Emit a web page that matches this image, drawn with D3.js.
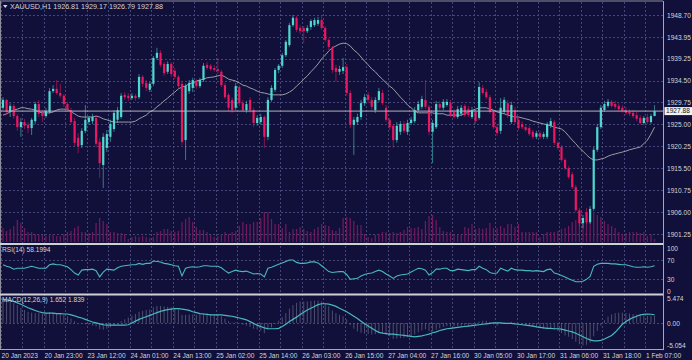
<!DOCTYPE html>
<html><head><meta charset="utf-8">
<script src="https://cdn.jsdelivr.net/npm/d3@7"></script>
<style>
html,body{margin:0;padding:0;background:#10103a;}
svg{display:block;}
text{font-family:"Liberation Sans",Arial,sans-serif;}
</style></head><body>
<svg id="chart" width="692" height="360"></svg>
<script>
const open = [
1928.6,1930.3,1927.7,1929.0,1926.8,1924.4,1925.5,1924.9,1924.2,1925.7,
1929.4,1927.5,1926.8,1927.7,1932.2,1932.7,1931.8,1931.2,1929.4,1928.1,
1925.7,1922.1,1920.5,1923.6,1925.5,1925.7,1926.4,1921.2,1916.2,1919.9,
1922.3,1924.0,1926.0,1926.6,1931.4,1931.2,1930.7,1931.2,1930.9,1935.3,
1934.0,1932.5,1933.8,1939.4,1940.5,1938.1,1936.4,1938.1,1936.6,1935.3,
1933.8,1921.6,1932.2,1932.9,1934.4,1933.3,1934.6,1937.9,1937.7,1937.2,
1937.0,1936.4,1933.5,1931.4,1930.3,1928.6,1933.1,1929.6,1928.1,1930.3,
1928.1,1925.3,1925.5,1926.6,1922.3,1930.3,1932.5,1936.8,1937.7,1940.0,
1942.2,1946.5,1948.1,1945.9,1945.9,1945.2,1946.1,1946.5,1946.8,1947.6,
1945.9,1943.3,1941.6,1937.2,1936.4,1936.6,1937.4,1931.8,1924.9,1925.5,
1926.6,1929.6,1931.4,1930.3,1928.1,1930.3,1931.8,1928.6,1926.0,1924.7,
1921.6,1923.4,1925.1,1923.4,1925.3,1925.7,1928.1,1928.8,1930.3,1928.8,
1923.4,1924.4,1929.4,1928.6,1929.2,1929.6,1927.7,1926.6,1927.3,1929.0,
1928.3,1926.6,1927.7,1926.4,1932.9,1932.0,1930.9,1927.7,1924.4,1923.6,
1927.7,1929.6,1925.5,1928.1,1926.0,1925.1,1924.4,1924.2,1923.4,1922.3,
1923.1,1922.3,1922.3,1924.7,1925.5,1921.0,1920.1,1917.3,1915.5,1914.2,
1911.4,1906.4,1903.6,1906.0,1903.8,1906.7,1919.5,1924.4,1928.1,1929.0,
1929.9,1929.4,1929.0,1928.6,1928.1,1927.7,1927.5,1927.0,1926.4,1925.3,
1926.6,1925.5,1926.81];
const high = [
1930.9,1930.5,1929.6,1929.4,1927.3,1926.4,1926.2,1925.5,1926.4,1929.9,
1930.3,1928.1,1928.6,1932.9,1933.5,1934.6,1933.8,1931.6,1929.9,1928.6,
1926.4,1923.1,1924.2,1929.2,1926.8,1927.3,1927.0,1922.1,1923.1,1923.8,
1926.0,1928.1,1928.8,1931.8,1932.0,1931.8,1931.8,1931.6,1935.9,1935.7,
1934.6,1934.2,1939.8,1941.6,1941.1,1938.5,1938.7,1938.5,1937.2,1935.7,
1934.2,1933.8,1934.6,1935.1,1934.8,1935.1,1938.3,1938.5,1938.1,1937.9,
1939.4,1936.8,1934.0,1931.8,1930.9,1934.0,1933.5,1930.3,1930.1,1930.9,
1928.6,1927.0,1927.3,1927.0,1930.9,1933.5,1937.2,1938.1,1940.5,1943.3,
1947.0,1948.7,1948.5,1946.5,1946.3,1946.5,1947.8,1948.1,1948.3,1948.7,
1946.3,1943.7,1942.0,1937.9,1937.7,1939.4,1938.1,1932.5,1926.6,1927.3,
1930.3,1931.6,1932.0,1930.9,1930.9,1932.9,1932.5,1929.2,1926.4,1925.1,
1925.5,1925.7,1925.7,1926.0,1926.6,1928.8,1930.1,1931.2,1934.6,1929.2,
1926.0,1930.1,1930.1,1930.5,1930.5,1930.3,1928.3,1929.0,1929.2,1929.4,
1929.0,1928.8,1928.3,1934.2,1933.5,1932.7,1931.4,1928.1,1925.1,1930.7,
1930.9,1930.3,1929.9,1928.8,1926.4,1925.7,1925.1,1924.7,1923.8,1923.6,
1923.6,1923.4,1925.5,1926.4,1926.0,1921.4,1920.5,1917.7,1916.0,1914.7,
1911.9,1906.9,1905.4,1906.9,1907.3,1920.1,1925.1,1929.2,1930.1,1930.5,
1930.3,1930.1,1929.6,1929.2,1928.8,1928.3,1928.1,1927.7,1927.0,1926.8,
1927.3,1927.3,1929.17];
const low = [
1928.1,1927.0,1926.6,1926.2,1923.6,1922.3,1924.0,1923.1,1922.7,1925.1,
1926.6,1925.5,1926.4,1927.3,1931.8,1931.4,1930.7,1928.8,1927.7,1925.1,
1920.3,1918.8,1919.9,1923.1,1924.9,1925.1,1920.1,1913.4,1911.2,1919.0,
1921.2,1923.4,1925.3,1926.2,1930.3,1930.1,1930.3,1930.1,1930.5,1933.1,
1932.2,1932.0,1933.3,1939.0,1937.4,1935.5,1935.9,1935.3,1934.8,1932.9,
1920.5,1917.3,1931.6,1932.0,1932.7,1932.9,1934.2,1936.8,1936.6,1936.4,
1935.9,1933.1,1930.5,1927.9,1927.5,1928.1,1929.0,1927.7,1927.5,1927.5,
1924.4,1924.7,1924.9,1919.9,1921.6,1929.9,1932.0,1936.1,1937.2,1939.6,
1941.8,1946.1,1945.0,1944.6,1942.6,1944.8,1945.5,1946.1,1946.3,1945.5,
1942.9,1941.1,1936.1,1934.2,1935.7,1935.9,1931.2,1924.2,1918.4,1924.9,
1926.0,1929.0,1929.6,1928.1,1927.5,1929.9,1929.2,1925.5,1923.8,1919.9,
1921.0,1922.7,1923.1,1922.7,1924.9,1925.3,1927.7,1928.3,1928.3,1922.7,
1916.6,1924.0,1928.1,1928.1,1928.8,1926.6,1926.2,1926.2,1926.8,1926.6,
1926.6,1926.2,1925.1,1926.0,1931.4,1930.5,1927.3,1924.0,1922.5,1922.9,
1927.3,1926.4,1925.1,1925.1,1923.8,1924.0,1923.4,1922.5,1921.8,1921.8,
1921.8,1921.8,1921.8,1924.2,1920.5,1919.5,1916.9,1915.1,1913.2,1911.0,
1906.0,1902.8,1902.5,1903.4,1903.4,1906.2,1919.0,1924.0,1927.7,1928.6,
1928.6,1928.3,1927.9,1927.5,1927.0,1926.8,1926.4,1925.7,1924.9,1924.9,
1925.1,1925.1,1926.79];
const close = [
1930.3,1927.7,1929.0,1926.8,1924.4,1925.5,1924.7,1924.2,1926.0,1929.4,
1927.3,1926.8,1927.9,1932.2,1932.7,1931.8,1931.2,1929.4,1928.1,1925.5,
1921.0,1920.3,1923.6,1926.0,1926.4,1926.6,1920.8,1916.6,1922.3,1922.9,
1925.1,1927.5,1928.1,1931.2,1930.9,1930.7,1931.2,1930.7,1935.3,1933.8,
1932.9,1933.8,1939.4,1940.5,1937.9,1936.1,1938.1,1935.9,1935.3,1933.3,
1921.2,1933.3,1934.0,1934.6,1933.3,1934.6,1937.7,1937.2,1937.0,1936.8,
1936.6,1933.5,1930.9,1928.6,1928.1,1933.3,1929.6,1928.1,1929.4,1928.1,
1925.3,1926.4,1926.6,1922.3,1930.3,1932.9,1936.8,1937.7,1940.0,1942.9,
1946.5,1948.1,1945.5,1945.2,1945.2,1945.9,1947.4,1947.6,1947.6,1945.9,
1943.3,1941.8,1936.8,1936.4,1937.0,1937.4,1931.8,1924.9,1926.0,1926.6,
1929.6,1930.9,1930.3,1928.8,1930.3,1932.2,1929.6,1926.0,1924.4,1921.6,
1924.7,1925.1,1923.6,1925.3,1926.0,1928.1,1929.4,1930.5,1928.8,1923.4,
1925.3,1929.4,1928.6,1929.9,1929.9,1927.0,1926.6,1928.3,1928.6,1927.0,
1927.0,1928.1,1925.7,1933.1,1931.8,1930.9,1927.7,1924.4,1923.1,1928.6,
1930.3,1927.0,1929.2,1925.5,1924.2,1924.4,1923.8,1922.9,1922.3,1923.1,
1922.3,1922.9,1925.1,1925.7,1921.0,1919.9,1917.3,1915.5,1913.6,1911.4,
1906.4,1903.6,1904.7,1903.8,1906.7,1919.5,1924.4,1928.6,1929.4,1929.9,
1929.0,1928.8,1928.3,1927.9,1927.5,1927.3,1926.8,1926.2,1925.3,1926.4,
1925.5,1926.8,1927.88];
const ma20 = [
1927.0,1927.3,1927.7,1928.1,1928.3,1928.6,1928.6,1928.4,1928.3,1928.1,
1927.7,1927.5,1927.5,1927.5,1927.7,1928.1,1928.3,1928.3,1928.3,1927.7,
1927.3,1926.8,1926.6,1926.6,1926.6,1926.6,1926.8,1926.6,1926.2,1926.0,
1925.7,1925.5,1925.5,1925.5,1925.5,1925.5,1925.5,1925.7,1926.2,1926.6,
1927.0,1927.7,1928.1,1928.8,1929.4,1930.1,1930.7,1931.4,1932.0,1932.7,
1933.1,1933.3,1933.8,1934.0,1934.4,1934.6,1934.8,1935.1,1935.2,1935.3,
1935.5,1935.7,1935.3,1934.8,1934.6,1934.4,1934.0,1933.5,1933.3,1932.9,
1932.6,1932.2,1931.9,1931.8,1931.6,1931.4,1931.4,1931.4,1931.4,1931.6,
1932.0,1932.5,1933.3,1934.0,1934.8,1935.5,1936.4,1937.2,1938.1,1939.2,
1940.0,1940.9,1941.6,1942.0,1942.4,1942.6,1942.5,1942.0,1941.1,1940.5,
1939.6,1938.7,1937.9,1937.0,1936.4,1935.5,1934.8,1934.0,1933.3,1932.7,
1931.8,1930.9,1930.1,1929.2,1928.6,1927.9,1927.5,1927.5,1927.5,1927.5,
1927.5,1927.3,1927.3,1927.3,1927.0,1927.0,1927.0,1927.0,1927.0,1927.3,
1927.7,1928.0,1928.3,1928.6,1928.6,1928.6,1928.3,1928.1,1927.7,1927.5,
1927.3,1927.0,1926.8,1926.6,1926.6,1926.4,1926.2,1926.0,1925.7,1925.5,
1925.3,1925.1,1924.9,1924.7,1924.4,1924.2,1924.0,1923.4,1922.5,1921.6,
1920.8,1919.9,1919.2,1918.4,1917.7,1917.3,1917.3,1917.5,1917.7,1918.1,
1918.4,1918.6,1918.8,1919.0,1919.2,1919.5,1919.7,1919.9,1920.1,1920.8,
1921.6,1922.9,1924.4];
const volume = [
1400,1100,1300,1600,2200,1900,1400,1000,1000,800,
800,700,600,800,800,600,600,800,1000,1100,
1400,1600,1000,1000,900,1000,1900,2400,2100,1800,
1000,1000,900,900,800,300,500,600,500,600,
500,400,500,1000,1100,1300,1300,1100,1000,1100,
2000,2300,2500,2000,1500,1200,1200,1000,700,500,
600,800,1000,800,1000,1100,1600,2000,1800,1800,
2000,2000,2400,3000,3000,2300,1800,1800,1400,1800,
1000,1300,1300,1500,1300,1100,1000,1300,1500,1800,
1700,1600,1200,1100,1400,2400,2500,2400,2100,1700,
1700,800,500,400,700,800,1000,1000,900,1000,
900,1000,1200,1500,1400,1400,1500,1300,2100,2600,
2700,2200,1500,1100,1000,1000,700,800,800,1500,
1400,1800,1300,1400,1300,1400,1900,1400,1400,1600,
1400,1800,1800,1500,1800,1000,1000,1000,1000,1000,
500,800,1000,1000,1000,1100,1300,1400,1600,2000,
2200,2200,2400,2200,2700,3000,2700,2500,2100,1800,
1600,1400,1000,800,900,1000,1000,1000,900,1000,
600,800,300];
const rsi = [
60,57,55,51,53,53,53,55,57,55,
53,53,53,60,62,60,60,58,56,50,
43,39,49,50,50,51,48,35,45,51,
50,49,54,57,58,59,60,60,63,61,
63,63,68,67,66,63,62,60,58,57,
37,53,55,56,55,56,58,58,57,57,
57,54,48,43,46,49,47,46,47,44,
41,42,41,35,53,55,58,61,64,67,
70,70,65,63,63,64,66,66,64,58,
52,46,44,45,46,46,40,30,31,32,
37,40,42,43,46,49,46,41,37,32,
37,39,40,41,45,49,53,52,49,39,
44,51,51,53,53,48,48,51,50,49,
48,50,50,57,53,50,44,42,43,53,
50,47,53,50,49,49,48,48,47,48,
47,46,50,51,43,41,38,35,31,28,
25,25,26,30,36,57,61,63,63,63,
62,62,61,60,60,58,56,55,55,56,
55,56,58.1994];
const macdMain = [
5.47,5.2,4.9,4.5,4.0,3.4,2.9,2.5,2.3,2.2,
2.2,2.1,2.2,2.4,2.3,2.2,2.0,1.8,1.5,1.0,
0.4,0.0,-0.2,-0.3,-0.4,-0.6,-0.8,-1.4,-1.5,-1.3,
-1.0,-0.6,-0.2,0.4,0.8,1.2,1.6,2.0,2.5,2.7,
2.9,3.0,3.5,3.8,3.8,3.7,3.6,3.5,3.3,3.0,
1.8,1.8,1.9,1.9,1.8,1.9,2.1,2.1,2.0,1.9,
1.8,1.5,1.0,0.4,0.1,0.2,-0.1,-0.4,-0.6,-0.9,
-1.3,-1.5,-1.7,-2.3,-1.5,-1.0,-0.2,0.5,1.3,2.2,
3.2,4.0,4.5,4.8,4.8,4.8,4.9,5.0,5.0,4.8,
4.3,3.7,2.8,2.2,1.8,1.5,0.8,-0.5,-1.3,-1.9,
-2.2,-2.4,-2.5,-2.6,-2.5,-2.3,-2.3,-2.6,-3.0,-3.6,
-3.5,-3.4,-3.3,-3.2,-3.0,-2.6,-2.1,-1.7,-1.4,-1.9,
-1.9,-1.5,-1.2,-0.9,-0.7,-0.8,-0.8,-0.7,-0.6,-0.6,
-0.6,-0.5,-0.5,0.3,0.5,0.5,0.2,-0.3,-0.6,-0.1,
0.1,0.0,0.2,0.1,-0.1,-0.3,-0.5,-0.7,-0.9,-1.0,
-1.2,-1.3,-1.2,-1.1,-1.5,-1.8,-2.3,-2.8,-3.1,-3.6,
-4.2,-4.8,-5.054,-4.9,-4.4,-3.0,-1.8,-0.6,0.6,1.4,
1.9,2.2,2.3,2.3,2.2,2.1,2.0,1.9,1.7,1.7,
1.6,1.6,1.652];
const macdSignal = [
5.3,5.2,5.0,4.8,4.5,4.2,3.8,3.4,3.1,2.8,
2.5,2.3,2.2,2.2,2.2,2.1,2.1,2.0,2.0,1.8,
1.6,1.3,1.1,0.8,0.5,0.2,0.0,-0.2,-0.4,-0.5,
-0.5,-0.5,-0.5,-0.5,-0.5,-0.4,0.0,0.4,0.8,1.1,
1.4,1.7,2.0,2.3,2.6,2.8,3.0,3.1,3.2,3.2,
3.1,3.0,2.8,2.5,2.3,2.1,2.0,1.9,1.8,1.8,
1.8,1.8,1.7,1.6,1.5,1.3,1.1,0.9,0.7,0.3,
-0.1,-0.5,-0.8,-1.1,-1.3,-1.3,-1.3,-1.2,-0.8,-0.3,
0.3,0.8,1.3,1.9,2.4,2.9,3.3,3.7,4.1,4.3,
4.3,4.2,4.0,3.7,3.3,2.9,2.5,2.0,1.5,1.0,
0.4,-0.2,-0.7,-1.2,-1.7,-2.1,-2.3,-2.4,-2.5,-2.5,
-2.6,-2.7,-2.8,-2.9,-3.0,-3.1,-3.0,-2.9,-2.7,-2.5,
-2.2,-2.0,-1.7,-1.5,-1.3,-1.2,-1.1,-1.0,-0.9,-0.8,
-0.7,-0.6,-0.5,-0.4,-0.3,-0.2,-0.1,0.0,0.0,0.0,
-0.1,-0.1,-0.1,-0.2,-0.3,-0.4,-0.5,-0.6,-0.7,-0.9,
-1.0,-1.1,-1.2,-1.2,-1.3,-1.3,-1.4,-1.6,-1.8,-2.0,
-2.3,-2.7,-3.1,-3.5,-3.8,-4.0,-4.0,-3.9,-3.6,-3.2,
-2.8,-2.1,-1.2,-0.3,0.3,0.8,1.2,1.5,1.8,1.9,
2.0,1.95,1.839];
const timeLabels = ["20 Jan 2023","20 Jan 23:00","23 Jan 12:00","24 Jan 01:00","24 Jan 13:00","25 Jan 02:00","25 Jan 14:00","26 Jan 03:00","26 Jan 15:00","27 Jan 04:00","27 Jan 16:00","30 Jan 05:00","30 Jan 17:00","31 Jan 06:00","31 Jan 18:00","1 Feb 07:00"];
const timeLabelBars = [0,12,24,36,48,60,72,84,96,108,120,132,144,156,168,180];
const priceTicks = [1948.70,1943.95,1939.25,1934.50,1929.75,1925.00,1920.25,1915.50,1910.75,1906.00,1901.25];
const rsiTicks = [100,70,30,0];
const rsiLevels = [70,30];
const macdTicks = [5.474,0,-5.054];
const lastPrice = 1927.88;
const headerText = "XAUUSD,H1  1926.81 1929.17 1926.79 1927.88";
const rsiText = "RSI(14) 58.1994";
const macdText = "MACD(12,26,9) 1.652 1.839";

const BG = "#10103a", BULL = "#4fd8d0", BEAR = "#ec1760", GRID = "#45457a", TXT = "#d4d4dc", SEP = "#cfcfd6";
const FS = 6.6;
const N = close.length;
const plotR = 663;
const svg = d3.select("#chart");
svg.append("rect").attr("width",692).attr("height",360).attr("fill",BG);

const x = d3.scaleLinear().domain([0, N-1]).range([3, 3 + 3.58*(N-1)]);
const yP = d3.scaleLinear().domain([1901.25, 1948.70]).range([234, 15]);
const yV = d3.scaleLinear().domain([0, 3000]).range([242, 212]);
const yR = d3.scaleLinear().domain([0, 100]).range([293.8, 245.5]);
const yM = d3.scaleLinear().domain([-5.054, 5.474]).range([345.5, 298.5]);

// grid
const gGrid = svg.append("g").attr("stroke", GRID).attr("stroke-width", 1).attr("stroke-dasharray", "2,2").attr("fill","none");
const vIdx = d3.range(0, N, 6);
gGrid.selectAll("line.v").data(vIdx).join("line")
  .attr("x1", d => Math.round(x(d) - 2) + 0.5).attr("x2", d => Math.round(x(d) - 2) + 0.5)
  .attr("y1", 2).attr("y2", 349);
gGrid.selectAll("line.hp").data(priceTicks).join("line").attr("class","hp")
  .attr("x1", 1).attr("x2", plotR).attr("y1", d => Math.round(yP(d)) + 0.5).attr("y2", d => Math.round(yP(d)) + 0.5);
gGrid.selectAll("line.hr").data(rsiLevels).join("line").attr("class","hr")
  .attr("x1", 1).attr("x2", plotR).attr("y1", d => Math.round(yR(d)) + 0.5).attr("y2", d => Math.round(yR(d)) + 0.5);
gGrid.append("line").attr("x1",1).attr("x2",plotR).attr("y1",Math.round(yM(0))+0.5).attr("y2",Math.round(yM(0))+0.5);

// volume
svg.append("g").selectAll("line").data(volume).join("line")
  .attr("x1", (d,i) => x(i)).attr("x2", (d,i) => x(i))
  .attr("y1", yV(0)).attr("y2", d => yV(d))
  .attr("stroke", "#6e1a5c").attr("stroke-width", 1.3);

// MA
svg.append("path").datum(ma20)
  .attr("d", d3.line().x((d,i) => x(i)).y(d => yP(d)))
  .attr("fill","none").attr("stroke","#9c9ca8").attr("stroke-width",1);

// candles
const idx = d3.range(N);
const gC = svg.append("g");
gC.selectAll("line").data(idx).join("line")
  .attr("x1", i => x(i)).attr("x2", i => x(i))
  .attr("y1", i => yP(high[i])).attr("y2", i => yP(low[i]))
  .attr("stroke", i => close[i] >= open[i] ? BULL : BEAR)
  .attr("stroke-opacity", 0.55).attr("stroke-width", 1);
gC.selectAll("rect").data(idx).join("rect")
  .attr("x", i => x(i) - 1.1).attr("width", 2.2)
  .attr("y", i => yP(Math.max(open[i], close[i])))
  .attr("height", i => Math.max(0.8, Math.abs(yP(open[i]) - yP(close[i]))))
  .attr("fill", i => close[i] >= open[i] ? BULL : BEAR);

// last price line
svg.append("line").attr("x1",1).attr("x2",plotR).attr("y1",yP(lastPrice)).attr("y2",yP(lastPrice))
  .attr("stroke","#b4b4be").attr("stroke-width",1);

// RSI
svg.append("path").datum(rsi)
  .attr("d", d3.line().x((d,i) => x(i)).y(d => yR(d)))
  .attr("fill","none").attr("stroke","#48b8bf").attr("stroke-width",1.1);

// MACD histogram and signal
svg.append("g").selectAll("line").data(macdMain).join("line")
  .attr("x1", (d,i) => x(i)).attr("x2", (d,i) => x(i))
  .attr("y1", yM(0)).attr("y2", d => yM(d))
  .attr("stroke", "#6e6e88").attr("stroke-width", 0.9).attr("stroke-opacity",0.75);
svg.append("path").datum(macdSignal)
  .attr("d", d3.line().x((d,i) => x(i)).y(d => yM(d)))
  .attr("fill","none").attr("stroke","#48b8bf").attr("stroke-width",1.2);

// separators / borders
const bord = svg.append("g").attr("stroke", SEP);
bord.append("line").attr("x1",0).attr("x2",plotR).attr("y1",1).attr("y2",1).attr("stroke-width",1).attr("stroke","#8c8c9c");
bord.append("line").attr("x1",0.5).attr("x2",0.5).attr("y1",1).attr("y2",349).attr("stroke","#8c8c9c");
bord.append("line").attr("x1",0).attr("x2",plotR).attr("y1",244).attr("y2",244).attr("stroke-width",2);
bord.append("line").attr("x1",0).attr("x2",plotR).attr("y1",294.5).attr("y2",294.5).attr("stroke-width",2);
bord.append("line").attr("x1",0).attr("x2",plotR+1).attr("y1",349.5).attr("y2",349.5).attr("stroke","#a8a8b4");
bord.append("line").attr("x1",plotR+0.5).attr("x2",plotR+0.5).attr("y1",1).attr("y2",350).attr("stroke","#a8a8b4");

// axes
function styleAxis(g){
  g.select(".domain").remove();
  g.selectAll("line").remove();
  g.selectAll("text").attr("fill", TXT).attr("font-size", FS).attr("font-family","Liberation Sans, Arial, sans-serif");
}
svg.append("g").attr("transform",`translate(${plotR},0)`)
  .call(d3.axisRight(yP).tickValues(priceTicks).tickSize(0).tickPadding(4).tickFormat(d3.format(".2f")))
  .call(styleAxis);
const rAx = svg.append("g").attr("transform",`translate(${plotR},0)`)
  .call(d3.axisRight(yR).tickValues(rsiTicks).tickSize(0).tickPadding(4).tickFormat(d3.format("d")))
  .call(styleAxis);
rAx.selectAll("text").attr("dy", d => d === 100 ? "0.75em" : d === 0 ? "-0.1em" : "0.32em");
svg.append("g").attr("transform",`translate(${plotR},0)`)
  .call(d3.axisRight(yM).tickValues(macdTicks).tickSize(0).tickPadding(4).tickFormat(d => d === 0 ? "0.00" : String(d)))
  .call(styleAxis);
const xAx = svg.append("g").attr("transform","translate(0,350)")
  .call(d3.axisBottom(x).tickValues(timeLabelBars).tickSize(0).tickPadding(3).tickFormat((d,i) => timeLabels[i]))
  .call(styleAxis);
xAx.selectAll("text").attr("text-anchor","start").attr("x", -2);

// last price box
svg.append("rect").attr("x",plotR+1.5).attr("y",yP(lastPrice)-4).attr("width",27.5).attr("height",8).attr("fill","#f2f2f2");
svg.append("text").attr("x",plotR+3).attr("y",yP(lastPrice)).attr("dy","0.35em").attr("font-size",FS).attr("fill","#111").text(lastPrice.toFixed(2));

// labels
svg.append("path").attr("d","M3,5 L7.5,5 L5.25,8 Z").attr("fill",TXT);
svg.append("text").attr("x",10).attr("y",8.8).attr("font-size",7.2).attr("fill",TXT).text(headerText);
svg.append("text").attr("x",2).attr("y",251.8).attr("font-size",FS).attr("fill",TXT).text(rsiText);
svg.append("text").attr("x",2).attr("y",302.3).attr("font-size",FS).attr("fill",TXT).text(macdText);
</script>
</body></html>
